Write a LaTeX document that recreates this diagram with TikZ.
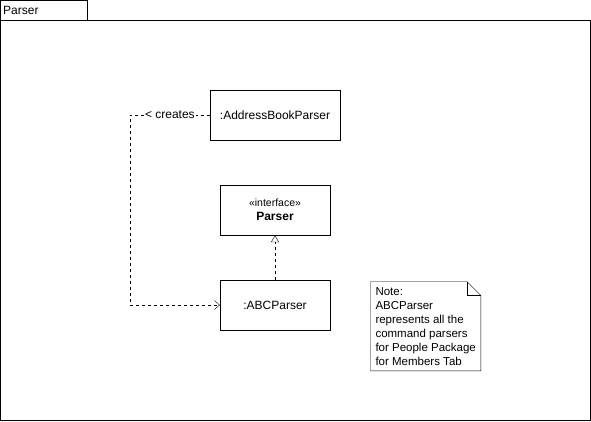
\documentclass[tikz,border=0pt]{standalone}
\usepackage{fontspec}
\setmainfont{Liberation Sans}
\usetikzlibrary{arrows.meta,positioning}
\begin{document}
\begin{tikzpicture}[x=1pt,y=-1pt,font=\fontsize{12}{14}\selectfont,
cls/.style={draw,minimum width=110pt,minimum height=50pt,inner sep=0pt,align=center},
dep/.style={dash pattern=on 3pt off 3pt}]
\pgfmathsetmacro{\kcx}{275}
\pgfmathsetmacro{\kfold}{14}
\useasboundingbox(0,0) rectangle (591,421);
% package frame
\draw(0.5,0.5) rectangle (87,20.5);
\node[anchor=west,inner sep=0pt](pkg) at (3,10.5){Parser};
\draw(0.5,20.5) rectangle (590.5,420.5);
% classes
\node[cls,minimum width=130pt](abp) at (\kcx,115){:AddressBookParser};
\node[cls](intf) at (\kcx,210){{\fontsize{10.5}{13}\selectfont «interface»}\\\textbf{Parser}};
\node[cls](abc) at (\kcx,305){:ABCParser};
\draw[dep,-{Triangle[open,length=7pt,width=8pt]}](abc)--(intf);
\coordinate(turn) at (130,115);
\draw[dep,-{Straight Barb[length=5pt,width=9pt]}](abp.west)--node[fill=white,inner sep=1pt]{< creates}(turn)|-(abc.west);
% note
\node[anchor=north west,minimum width=110pt,minimum height=89pt,inner xsep=1.5pt,inner ysep=2pt,align=left,
font=\fontsize{11.5}{14}\selectfont](note) at (370.5,281.5){Note:\\ABCParser\\represents all the\\command parsers\\for People Package\\for Members Tab};
\draw(note.north west)--([xshift=-\kfold pt]note.north east)--([yshift=-\kfold pt]note.north east)--(note.south east)--(note.south west)--cycle;
\draw([xshift=-\kfold pt]note.north east)|-([yshift=-\kfold pt]note.north east);
\end{tikzpicture}
\end{document}
